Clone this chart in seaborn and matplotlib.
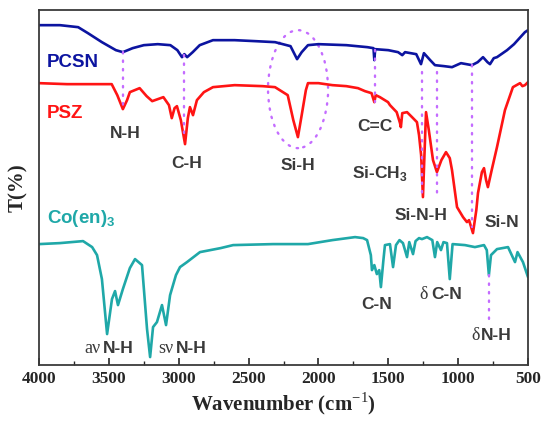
import numpy as np
import pandas as pd
import matplotlib
matplotlib.use("Agg")
import matplotlib.pyplot as plt
from matplotlib.patches import Ellipse
import seaborn as sns

# FTIR spectra, values (T in arbitrary units, curves offset)
pcsn_wn = [4000, 3850, 3720, 3650, 3550, 3450, 3400, 3330, 3250, 3150, 3060, 3010, 2977, 2960,
           2940, 2900, 2850, 2755, 2600, 2450, 2310, 2200, 2153, 2120, 2075, 2000, 1800, 1650,
           1606, 1600, 1594, 1500, 1430, 1400, 1380, 1300, 1266, 1245, 1200, 1166, 1100, 1044,
           980, 901, 860, 822, 790, 772, 745, 722, 650, 600, 522, 500]
pcsn_t = [340, 340, 338, 332, 323, 315, 313, 317, 320, 321, 320, 315, 308, 311,
          308, 313, 320, 325, 325, 324, 323, 319, 306, 313, 320, 321, 320, 318,
          317, 305, 316, 315, 313, 310, 313, 311, 301, 312, 305, 300, 299, 298,
          302, 300, 303, 308, 303, 301, 307, 308, 315, 321, 333, 335]

psz_wn = [4000, 3800, 3600, 3480, 3440, 3400, 3370, 3350, 3280, 3230, 3190, 3110, 3070, 3050,
          3030, 3013, 2985, 2955, 2935, 2920, 2898, 2870, 2820, 2755, 2600, 2400, 2311, 2220,
          2180, 2147, 2120, 2090, 2075, 2000, 1900, 1800, 1717, 1667, 1620, 1600, 1590, 1560,
          1502, 1488, 1440, 1416, 1410, 1400, 1366, 1330, 1295, 1280, 1265, 1252, 1240, 1230,
          1210, 1180, 1152, 1120, 1087, 1060, 1044, 1008, 965, 937, 922, 894, 870, 858, 830,
          815, 800, 787, 760, 722, 665, 608, 557, 540, 522, 500]
psz_t = [282, 281, 281, 281, 270, 256, 265, 273, 277, 269, 264, 268, 260, 247,
         257, 259, 245, 221, 247, 258, 250, 265, 273, 278, 280, 279, 278, 270,
         245, 228, 250, 275, 282, 282, 280, 279, 277, 274, 272, 263, 270, 268,
         263, 260, 253, 242, 238, 252, 253, 248, 243, 230, 210, 168, 215, 253,
         235, 205, 193, 205, 213, 207, 195, 158, 148, 143, 145, 132, 155, 172, 193,
         197, 185, 178, 195, 218, 255, 278, 282, 279, 280, 283]

coen_wn = [4000, 3850, 3685, 3620, 3585, 3550, 3513, 3478, 3456, 3435, 3400, 3350, 3313, 3263,
           3227, 3205, 3184, 3156, 3120, 3091, 3062, 3020, 2991, 2941, 2848, 2700, 2611, 2325,
           2075, 1900, 1738, 1680, 1652, 1625, 1617, 1600, 1582, 1565, 1553, 1535, 1524, 1488,
           1466, 1445, 1420, 1395, 1366, 1350, 1323, 1305, 1280, 1259, 1223, 1185, 1166, 1150,
           1123, 1105, 1080, 1060, 1040, 951, 880, 815, 795, 780, 765, 722, 643, 593, 575, 536, 500]
coen_t = [121, 122, 124, 118, 110, 86, 31, 66, 74, 60, 76, 97, 106, 100,
          36, 8, 38, 43, 60, 40, 70, 90, 98, 103, 113, 117, 120, 121,
          121, 125, 128, 127, 125, 110, 95, 100, 91, 95, 78, 105, 120, 121,
          98, 120, 125, 122, 108, 123, 111, 124, 127, 126, 128, 125, 108, 123,
          115, 123, 122, 86, 121, 120, 118, 120, 115, 90, 110, 116, 118, 103, 113, 103, 88]

# assignment guide lines: wavenumber, T top, T bottom
guide_wn = [3400, 2960, 1595, 1259, 1152, 901, 780]
guide_top = [313, 310, 315, 293, 293, 300, 90]
guide_bot = [255, 225, 263, 168, 168, 138, 45]

sns.set_style("white")
plt.rcParams["mathtext.fontset"] = "custom"
plt.rcParams["mathtext.bf"] = "Liberation Sans:bold"
plt.rcParams["mathtext.rm"] = "Liberation Serif"

spectra = pd.concat([
    pd.DataFrame({"wn": pcsn_wn, "T": pcsn_t, "sample": "PCSN"}),
    pd.DataFrame({"wn": psz_wn, "T": psz_t, "sample": "PSZ"}),
    pd.DataFrame({"wn": coen_wn, "T": coen_t, "sample": "Co(en)3"}),
])
colors = {"PCSN": "#0c14a0", "PSZ": "#ff1414", "Co(en)3": "#1fa8a8"}

fig, ax = plt.subplots(figsize=(5.5, 4.24), dpi=100)
fig.subplots_adjust(left=0.071, right=0.96, bottom=0.139, top=0.976)

for name, grp in spectra.groupby("sample"):
    sns.lineplot(data=grp, x="wn", y="T", color=colors[name], lw=1.9,
                 estimator=None, ax=ax, legend=False, solid_joinstyle="round")

violet = "#c46cff"
for w, t0, t1 in zip(guide_wn, guide_top, guide_bot):
    ax.plot([w, w], [t0, t1], color=violet, lw=1.7, ls=(0, (0.6, 3.0)),
            dash_capstyle="round")
ax.add_patch(Ellipse((2146, 276), 430, 118, fill=False, ec=violet, lw=1.7,
                     ls=(0, (0.6, 3.0)), capstyle="round"))

ax.set_xlim(4000, 500)
ax.set_ylim(0, 355)
ax.set_xticks(range(4000, 499, -500))
ax.set_xticks(range(3750, 500, -500), minor=True)
ax.set_yticks([])
ax.tick_params(axis="x", which="major", direction="in", length=5, width=1.2,
               bottom=True, top=False, pad=4)
ax.tick_params(axis="x", which="minor", direction="in", length=3, width=1.0,
               bottom=True, top=False)
for lab in ax.get_xticklabels():
    lab.set_fontfamily("Liberation Serif")
    lab.set_fontweight("bold")
    lab.set_fontsize(12.5)
for s in ax.spines.values():
    s.set_color("#3a3a3a")
    s.set_linewidth(1.3)

ax.set_xlabel("Wavenumber (cm$^{\\mathrm{-1}}$)", fontfamily="Liberation Serif",
              fontweight="bold", fontsize=15, labelpad=3)
ax.set_ylabel("T(%)", fontfamily="Liberation Serif", fontweight="bold",
              fontsize=15, labelpad=8)

big = dict(fontfamily="Liberation Sans", fontweight="bold", fontsize=13.5)
sans = dict(fontfamily="Liberation Sans", fontweight="bold", fontsize=12.5)
gray = "#3a3a3a"
ax.text(3945, 303, "PCSN", color=colors["PCSN"], ha="left", va="center", **big)
ax.text(3945, 252, "PSZ", color=colors["PSZ"], ha="left", va="center", **big)
ax.text(3945, 147, "Co(en)$_\\mathbf{3}$", color=colors["Co(en)3"], ha="left", va="center", **big)
ax.text(3384, 232, "N-H", color=gray, ha="center", va="center", **sans)
ax.text(2941, 202, "C-H", color=gray, ha="center", va="center", **sans)
ax.text(2146, 200, "Si-H", color=gray, ha="center", va="center", **sans)
ax.text(1595, 239, "C=C", color=gray, ha="center", va="center", **sans)
ax.text(1560, 192, "Si-CH$_\\mathbf{3}$", color=gray, ha="center", va="center", **sans)
ax.text(1266, 150, "Si-N-H", color=gray, ha="center", va="center", **sans)
ax.text(686, 143, "Si-N", color=gray, ha="center", va="center", **sans)
ax.text(1581, 61, "C-N", color=gray, ha="center", va="center", **sans)

serif = dict(fontfamily="Liberation Serif", fontsize=13, color=gray, va="center")
ax.text(3562, 17, "a\u03bd", ha="right", **serif)
ax.text(3542, 17, "N-H", color=gray, ha="left", va="center", **sans)
ax.text(3041, 17, "s\u03bd", ha="right", **serif)
ax.text(3020, 17, "N-H", color=gray, ha="left", va="center", **sans)
ax.text(1216, 71, "\u03b4", ha="right", **serif)
ax.text(1194, 71, "C-N", color=gray, ha="left", va="center", **sans)
ax.text(844, 30, "\u03b4", ha="right", **serif)
ax.text(837, 30, "N-H", color=gray, ha="left", va="center", **sans)

plt.savefig("out.png", dpi=100)
